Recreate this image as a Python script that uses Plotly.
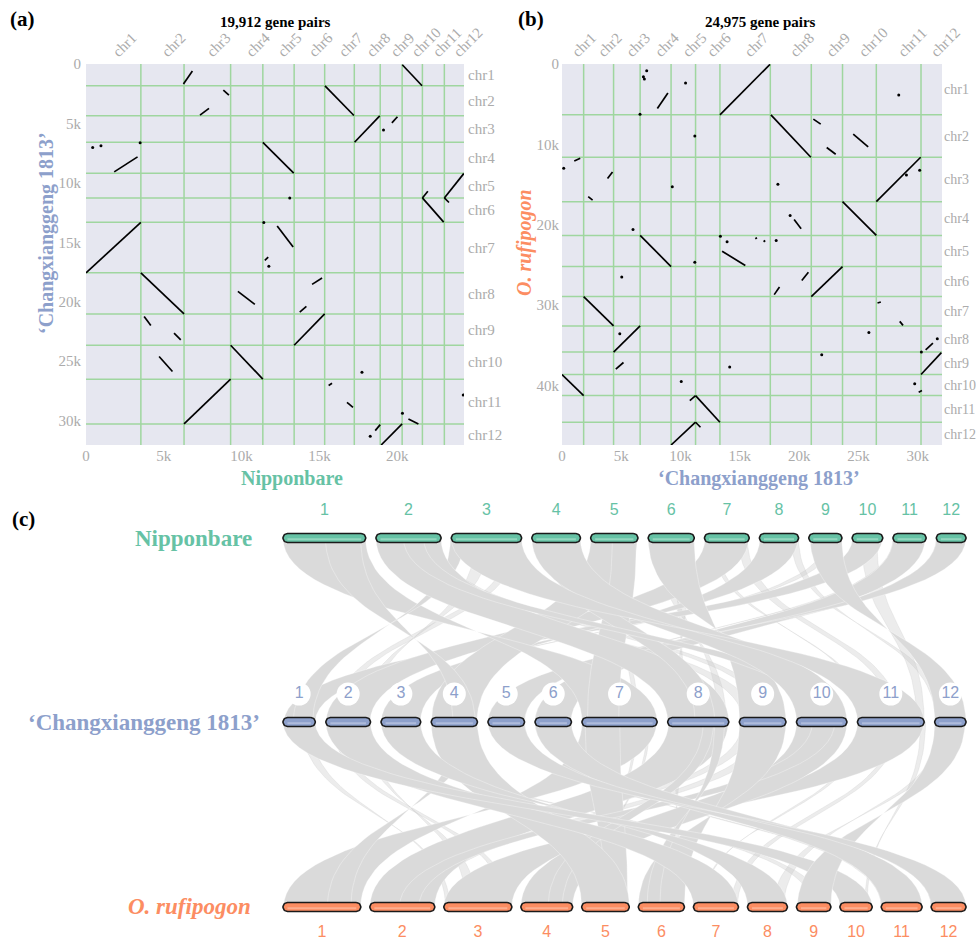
import numpy as np
import plotly.graph_objects as go

W, H = 976, 941

# ---------------- data ----------------
chr_names = [f"chr{i}" for i in range(1, 13)]
chr_numbers = [str(i) for i in range(1, 13)]

# genes per chromosome (gene index axis lengths)
nip_sizes = [3526, 2775, 2994, 2070, 2013, 1962, 1904, 1666, 1410, 1302, 1410, 1263]
cxg_sizes = [1826, 2524, 2240, 2610, 2065, 2055, 4250, 3455, 2635, 2850, 3770, 1770]
ruf_sizes = [6322, 5274, 5524, 4202, 3865, 3741, 3653, 3242, 2793, 2618, 3317, 2831]

title_a = "19,912 gene pairs"
title_b = "24,975 gene pairs"

# panel (a): Nipponbare gene index (x) vs 'Changxianggeng 1813' gene index (y)
# collinear blocks (x0, y0, x1, y1)
blocks_a = [
    (20330, 60, 21600, 1826), (15360, 1840, 17220, 4330), (17260, 6580, 18880, 4360),
    (11365, 6600, 13350, 9180), (21622, 11265, 22990, 13300), (21622, 11265, 21970, 10700),
    (23032, 11265, 24290, 9200), (23032, 11265, 23330, 11650), (0, 17570, 3526, 13320),
    (1814, 9076, 3314, 7812), (6263, 1685, 6839, 590), (8827, 2191, 9186, 2612),
    (7327, 4298, 7904, 3733), (19659, 4947, 20018, 4441), (12288, 13626, 13314, 15396),
    (11493, 16517, 11711, 16239), (3526, 17570, 6301, 21025), (9762, 19129, 10852, 20225),
    (14531, 18539, 15172, 18009), (13737, 20874, 14166, 20393), (13378, 23660, 15340, 21025),
    (3737, 21236, 4167, 21994), (5660, 22643, 6090, 23200), (4699, 24607, 5557, 25871),
    (9295, 23660, 11365, 26510), (6301, 30280, 9295, 26510), (15596, 27051, 15813, 26857),
    (16775, 28458, 17160, 28879), (18970, 32050, 20320, 30280), (18589, 30843, 18910, 30337),
    (20724, 29857, 21365, 30278),
]
dots_a_x = [430, 962, 3480, 19121, 11429, 13096, 11750, 17736, 24249, 18269, 20339]
dots_a_y = [7020, 6885, 6632, 5562, 13340, 11267, 17023, 25930, 27834, 31323, 29385]

# panel (b): 'Changxianggeng 1813' gene index (x) vs O. rufipogon gene index (y)
blocks_b = [
    (13320, 6322, 17540, 50), (17620, 6330, 20990, 11596), (26510, 17120, 30250, 11596),
    (23660, 17120, 26510, 21322), (8042, 5524, 8933, 3616), (13504, 23281, 15461, 25065),
    (16302, 21735, 16445, 21610), (17000, 22110, 17142, 21947), (21200, 6859, 21822, 7482),
    (22327, 10388, 23083, 11223), (24562, 8729, 25823, 10313), (1034, 12058, 1538, 11722),
    (3840, 14253, 4260, 13430), (2210, 16498, 2580, 16921), (19579, 19329, 20167, 20488),
    (6590, 21322, 9200, 25187), (21025, 28928, 23660, 25187), (17898, 28681, 18344, 27721),
    (20226, 26935, 20781, 25899), (1826, 28928, 4350, 32581), (4350, 35823, 6590, 32581),
    (4538, 37946, 5185, 37123), (0, 38616, 1826, 41234), (26612, 29716, 26889, 29591),
    (28486, 32010, 28763, 32509), (30280, 38616, 32000, 35900), (30671, 35540, 31284, 34704),
    (30083, 40815, 30360, 40616), (10781, 41862, 11265, 41234), (11265, 41234, 13320, 44551),
    (9200, 47382, 11265, 44551), (11265, 44551, 11680, 45178),
]
dots_b_x = [6580, 6865, 7143, 6949, 10420, 11201, 28402, 143, 9302, 18209, 19243, 29049,
            30167, 5991, 13360, 13924, 18066, 11201, 5042, 4874, 10058, 14143, 21906,
            25881, 30310, 31654, 29747]
dots_b_y = [6235, 1584, 835, 1870, 2369, 8941, 3866, 12969, 15251, 14964, 18830, 13804,
            13218, 20576, 21410, 22110, 21947, 24653, 26474, 33544, 39493, 37696, 36163,
            33382, 35823, 34168, 39779]

ticks_a_x = [0, 5000, 10000, 15000, 20000]
ticks_a_y = [0, 5000, 10000, 15000, 20000, 25000, 30000]
ticks_b_x = [0, 5000, 10000, 15000, 20000, 25000, 30000]
ticks_b_y = [0, 10000, 20000, 30000, 40000]

# ---------------- style ----------------
GREEN, BLUE, ORANGE = "#66c2a5", "#8da0cb", "#fc8d62"
STRIPE = {"nip": "#93d6be", "cxg": "#aebbdb", "ruf": "#fdae8f"}
BG = "#e6e7f0"
GRID = "#9fd69f"
TICK = "#ababab"
SERIF = "Liberation Serif"
SANS = "Liberation Sans"


def px_x(p):
    return p / W


def px_y(p):
    return 1 - p / H


def klabel(v):
    return "0" if v == 0 else f"{v // 1000}k"


def bounds(sizes):
    return np.concatenate([[0], np.cumsum(sizes)])


def centers(sizes):
    b = bounds(sizes)
    return list((b[:-1] + b[1:]) / 2)


fig = go.Figure()
shapes = []


def dotplot(blocks, dx, dy, xa, ya, xsizes, ysizes):
    xs, ys = [], []
    for x0, y0, x1, y1 in blocks:
        xs += [x0, x1, None]
        ys += [y0, y1, None]
    fig.add_trace(go.Scatter(x=xs, y=ys, mode="lines", line=dict(color="black", width=1.7),
                             xaxis=xa, yaxis=ya, hoverinfo="skip", showlegend=False))
    fig.add_trace(go.Scatter(x=dx, y=dy, mode="markers", marker=dict(color="black", size=3),
                             xaxis=xa, yaxis=ya, hoverinfo="skip", showlegend=False))
    shapes.append(dict(type="rect", xref=f"{xa} domain", yref=f"{ya} domain", x0=0, x1=1,
                       y0=0, y1=1, fillcolor=BG, line_width=0, layer="below"))
    for b in bounds(xsizes)[1:-1]:
        shapes.append(dict(type="line", xref=xa, yref=f"{ya} domain", x0=b, x1=b, y0=0, y1=1,
                           line=dict(color=GRID, width=1.5), layer="below"))
    for b in bounds(ysizes)[1:-1]:
        shapes.append(dict(type="line", xref=f"{xa} domain", yref=ya, x0=0, x1=1, y0=b, y1=b,
                           line=dict(color=GRID, width=1.5), layer="below"))


dotplot(blocks_a, dots_a_x, dots_a_y, "x", "y", nip_sizes, cxg_sizes)
dotplot(blocks_b, dots_b_x, dots_b_y, "x2", "y2", cxg_sizes, ruf_sizes)

# dummy traces for label overlay axes
for xa, ya in [("x4", "y"), ("x", "y4"), ("x5", "y2"), ("x2", "y5")]:
    fig.add_trace(go.Scatter(x=[None], y=[None], xaxis=xa, yaxis=ya, mode="markers",
                             hoverinfo="skip", showlegend=False))

# ---------------- panel (c) ----------------
ROW_LEFT, ROW_RIGHT = 283, 966
ROW_Y = {"nip": 538, "cxg": 722, "ruf": 907}
ROW_GAP = {"nip": 10.3, "cxg": 10.6, "ruf": 9.1}
BAR_H = 9
SIZES = {"nip": nip_sizes, "cxg": cxg_sizes, "ruf": ruf_sizes}


def row_layout(sizes, gap):
    s = (ROW_RIGHT - ROW_LEFT - gap * (len(sizes) - 1)) / sum(sizes)
    starts, x = [], ROW_LEFT
    for sz in sizes:
        starts.append(x)
        x += sz * s + gap
    return starts, s


LAYOUT = {k: row_layout(SIZES[k], ROW_GAP[k]) for k in SIZES}


def gpos(g, key, idx):
    starts, s = LAYOUT[key]
    off = sum(SIZES[key][:idx])
    return starts[idx] + (g - off) * s


def chr_idx(g, key):
    ends = np.cumsum(SIZES[key])
    return int(min(np.searchsorted(ends, g, side="right"), 11))


t = np.linspace(0, 1, 40)


def bez(xa, ya, xb, yb):
    ym = (ya + yb) / 2
    x = (1 - t) ** 3 * xa + 3 * (1 - t) ** 2 * t * xa + 3 * (1 - t) * t ** 2 * xb + t ** 3 * xb
    y = (1 - t) ** 3 * ya + 3 * (1 - t) ** 2 * t * ym + 3 * (1 - t) * t ** 2 * ym + t ** 3 * yb
    return x, y


def ribbons(blocks, top, bot):
    yt, yb = ROW_Y[top], ROW_Y[bot]
    minor, major = [], []
    for x0, y0, x1, y1 in blocks:
        ci = chr_idx((x0 + x1) / 2, top)
        cj = chr_idx((y0 + y1) / 2, bot)
        a0, a1 = gpos(x0, top, ci), gpos(x1, top, ci)
        b0, b1 = gpos(y0, bot, cj), gpos(y1, bot, cj)
        cx1, cy1 = bez(a1, yt, b1, yb)
        cx2, cy2 = bez(b0, yb, a0, yt)
        xs = np.concatenate([[a0], cx1, cx2])
        ys = np.concatenate([[yt], cy1, cy2])
        big = max(abs(x1 - x0), abs(y1 - y0)) >= 1000
        (major if big else minor).append((xs, ys))
    for xs, ys in minor:
        fig.add_trace(go.Scatter(x=xs, y=ys, mode="lines", fill="toself",
                                 fillcolor="rgba(200,200,200,0.35)",
                                 line=dict(color="rgba(190,190,190,0.4)", width=0.5),
                                 xaxis="x3", yaxis="y3", hoverinfo="skip", showlegend=False))
    for xs, ys in major:
        fig.add_trace(go.Scatter(x=xs, y=ys, mode="lines", fill="toself", fillcolor="#dadada",
                                 line=dict(color="rgba(255,255,255,0.55)", width=0.6),
                                 xaxis="x3", yaxis="y3", hoverinfo="skip", showlegend=False))


ribbons(blocks_a, "nip", "cxg")
ribbons(blocks_b, "cxg", "ruf")


def bars(key, color):
    starts, s = LAYOUT[key]
    yc = ROW_Y[key]
    r = BAR_H / 2
    xs, ys, cs, sx, sy = [], [], [], [], []
    for st, sz in zip(starts, SIZES[key]):
        x0, x1 = st, st + sz * s
        th = np.linspace(-np.pi / 2, np.pi / 2, 16)
        rx = list(x1 - r + r * np.cos(th))
        ry = list(yc + r * np.sin(th))
        lx = list(x0 + r + r * np.cos(th + np.pi))
        ly = list(yc + r * np.sin(th + np.pi))
        xs += rx + lx + [rx[0], None]
        ys += ry + ly + [ry[0], None]
        sx += [x0 + r, x1 - r, None]
        sy += [yc + 1.2, yc + 1.2, None]
        cs.append((x0 + x1) / 2)
    fig.add_trace(go.Scatter(x=xs, y=ys, mode="lines", fill="toself", fillcolor=color,
                             line=dict(color="#1a1a1a", width=1.6), xaxis="x3", yaxis="y3",
                             hoverinfo="skip", showlegend=False))
    fig.add_trace(go.Scatter(x=sx, y=sy, mode="lines", line=dict(color=STRIPE[key], width=2),
                             xaxis="x3", yaxis="y3", hoverinfo="skip", showlegend=False))
    return cs


nip_c = bars("nip", GREEN)
cxg_c = bars("cxg", BLUE)
ruf_c = bars("ruf", ORANGE)

fig.add_trace(go.Scatter(x=nip_c, y=[511] * 12, mode="text", text=chr_numbers,
                         textfont=dict(family=SANS, size=16, color=GREEN),
                         xaxis="x3", yaxis="y3", hoverinfo="skip", showlegend=False))
fig.add_trace(go.Scatter(x=cxg_c, y=[694] * 12, mode="markers+text", text=chr_numbers,
                         marker=dict(color="white", size=23, line_width=0),
                         textposition="middle center",
                         textfont=dict(family=SANS, size=16, color=BLUE),
                         xaxis="x3", yaxis="y3", hoverinfo="skip", showlegend=False))
fig.add_trace(go.Scatter(x=ruf_c, y=[933] * 12, mode="text", text=chr_numbers,
                         textfont=dict(family=SANS, size=16, color=ORANGE),
                         xaxis="x3", yaxis="y3", hoverinfo="skip", showlegend=False))

# ---------------- axes ----------------
tickfont = dict(family=SERIF, size=15, color=TICK)
common = dict(showgrid=False, zeroline=False, showline=False, ticks="", tickfont=tickfont,
              automargin=False)
common_small = dict(common, tickfont=dict(family=SERIF, size=14, color=TICK))

A_X = [px_x(86), px_x(464)]
B_X = [px_x(562), px_x(942)]
AB_Y = [px_y(445), px_y(64)]

nip_total, cxg_total, ruf_total = sum(nip_sizes), sum(cxg_sizes), sum(ruf_sizes)

layout_axes = dict(
    xaxis=dict(domain=A_X, range=[0, nip_total], anchor="y", tickvals=ticks_a_x,
               ticktext=[klabel(v) for v in ticks_a_x], **common),
    yaxis=dict(domain=AB_Y, range=[cxg_total, 0], anchor="x", tickvals=ticks_a_y,
               ticktext=[klabel(v) for v in ticks_a_y], ticklabelstandoff=4, **common),
    xaxis4=dict(overlaying="x", side="top", anchor="y", range=[0, nip_total],
                tickvals=centers(nip_sizes), ticktext=chr_names, tickangle=-45, **common),
    yaxis4=dict(overlaying="y", side="right", anchor="x", range=[cxg_total, 0],
                tickvals=centers(cxg_sizes), ticktext=chr_names, ticklabelstandoff=3, **common),
    xaxis2=dict(domain=B_X, range=[0, cxg_total], anchor="y2", tickvals=ticks_b_x,
                ticktext=[klabel(v) for v in ticks_b_x], **common),
    yaxis2=dict(domain=AB_Y, range=[ruf_total, 0], anchor="x2", tickvals=ticks_b_y,
                ticktext=[klabel(v) for v in ticks_b_y], ticklabelstandoff=2, **common),
    xaxis5=dict(overlaying="x2", side="top", anchor="y2", range=[0, cxg_total],
                tickvals=centers(cxg_sizes), ticktext=chr_names, tickangle=-45, **common),
    yaxis5=dict(overlaying="y2", side="right", anchor="x2", range=[ruf_total, 0],
                tickvals=centers(ruf_sizes), ticktext=chr_names, ticklabelstandoff=1,
                **common_small),
    xaxis3=dict(domain=[0, 1], range=[0, W], anchor="y3", visible=False, automargin=False),
    yaxis3=dict(domain=[0, px_y(480)], range=[H, 480], anchor="x3", visible=False,
                automargin=False),
)

ann = []


def note(text, x, y, size, color="black", xanchor="center", angle=0, ref="paper"):
    ann.append(dict(text=text, x=x, y=y, xref=ref, yref=ref, showarrow=False,
                    xanchor=xanchor, yanchor="middle", textangle=angle,
                    font=dict(family=SERIF, size=size, color=color)))


note("<b>(a)</b>", px_x(8), px_y(19), 21, xanchor="left")
note("<b>(b)</b>", px_x(516), px_y(19), 21, xanchor="left")
note("<b>(c)</b>", px_x(10), px_y(519), 21, xanchor="left")
note(f"<b>{title_a}</b>", px_x(275), px_y(22), 15)
note(f"<b>{title_b}</b>", px_x(760), px_y(22), 15)
note("<b>Nipponbare</b>", px_x(292), px_y(478), 20, GREEN)
note("<b>‘Changxianggeng 1813’</b>", px_x(46), px_y(233), 20, BLUE, angle=-90)
note("<b>‘Changxianggeng 1813’</b>", px_x(759), px_y(478), 20, BLUE)
note("<b><i>O. rufipogon</i></b>", px_x(524), px_y(243), 20, ORANGE, angle=-90)
note("<b>Nipponbare</b>", px_x(254), px_y(538), 23, GREEN, xanchor="right")
note("<b>‘Changxianggeng 1813’</b>", px_x(262), px_y(722), 23, BLUE, xanchor="right")
note("<b><i>O. rufipogon</i></b>", px_x(253), px_y(906), 23, ORANGE, xanchor="right")

fig.update_layout(template="none", width=W, height=H, autosize=False,
                  margin=dict(l=0, r=0, t=0, b=0, pad=0),
                  paper_bgcolor="white", plot_bgcolor="white", showlegend=False,
                  hovermode=False, shapes=shapes, annotations=ann, **layout_axes)

fig.write_html("out.html", config={"displayModeBar": False, "staticPlot": True},
               post_script="document.body.style.margin='0';document.body.style.padding='0';"
                           "document.body.style.overflow='hidden';")
